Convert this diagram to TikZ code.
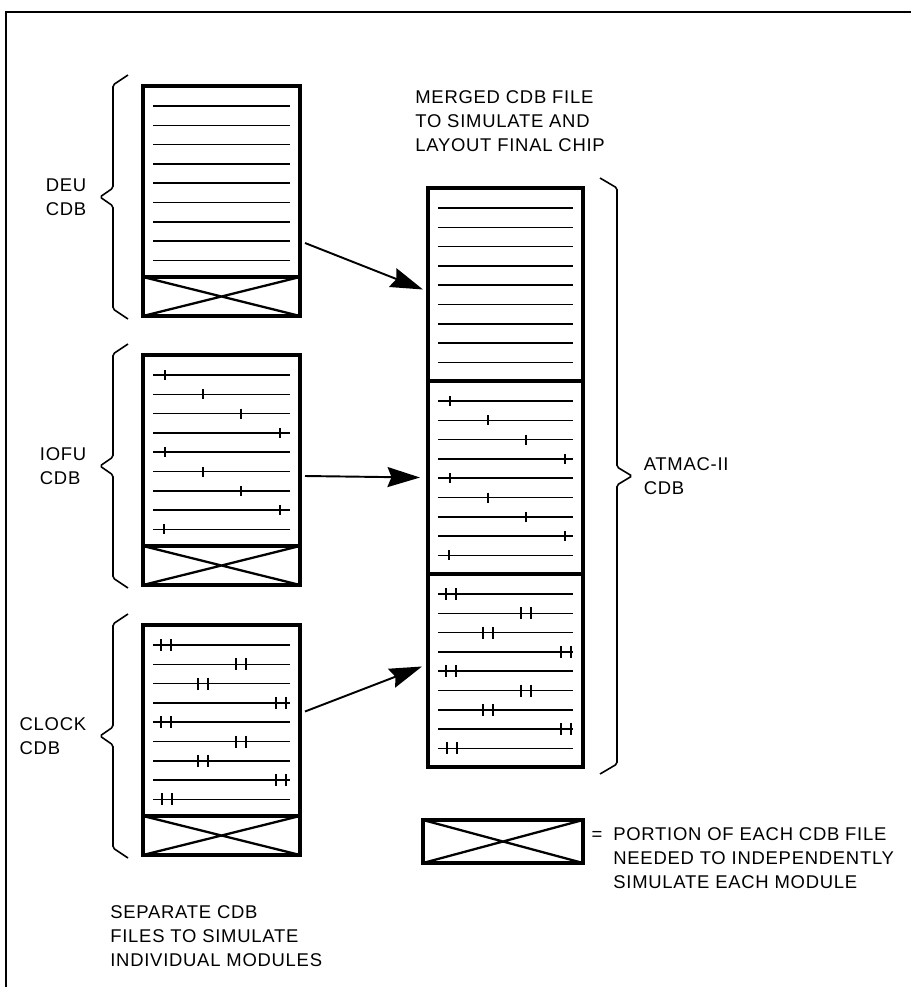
\documentclass[tikz,border=0pt]{standalone}
\usepackage{fontspec}
\newfontfamily\rotulo{Liberation Sans}[LetterSpace=4]
\usetikzlibrary{arrows.meta, positioning, calc}
\tikzset{
  cajaArchivo/.style={
    draw, line width=2.2pt, inner sep=0pt, outer sep=0pt,
    minimum width=3.14cm, minimum height=3.82cm
  },
  cajaCruce/.style={cajaArchivo, minimum height=0.78cm},
  cajaFusion/.style={cajaArchivo, minimum width=3.1cm, minimum height=3.86cm},
  renglon/.style={line width=0.9pt},
  marca/.style={line width=1.4pt},
  cruce/.style={line width=1.3pt},
  llave/.style={line width=0.9pt, rounded corners=1pt},
  marco/.style={line width=1.1pt},
  flecha/.style={-{Stealth[length=6.5mm, width=4mm, inset=0.8mm]}, line width=1.1pt},
  etiqueta/.style={align=left, inner sep=0pt, font=\rotulo\fontsize{10.5}{13.4}\selectfont},
}

\begin{document}
\begin{tikzpicture}
    \useasboundingbox (0,0) rectangle (18.22,-19.74);
    \draw[marco] (0.12,-19.74) -- (0.12,-0.24) -- (18.22,-0.24);

    % archivos separados
    \node[cajaArchivo, anchor=north west] (deu) at (2.86,-1.72) {};
    \node[cajaCruce, below=0pt of deu] (deuX) {};
    \node[cajaArchivo, below=0.78cm of deuX] (iofu) {};
    \node[cajaCruce, below=0pt of iofu] (iofuX) {};
    \node[cajaArchivo, below=0.8cm of iofuX] (clock) {};
    \node[cajaCruce, below=0pt of clock] (clockX) {};

    % archivo fusionado
    \node[cajaFusion, anchor=north west] (atmacDeu) at (8.56,-3.76) {};
    \node[cajaFusion, below=0pt of atmacDeu] (atmacIofu) {};
    \node[cajaFusion, below=0pt of atmacIofu] (atmacClock) {};

    \node[cajaCruce, minimum width=3.2cm, minimum height=0.86cm, anchor=north west] (leyenda) at (8.46,-16.4) {};

    \foreach \caja in {deu,iofu,clock,atmacDeu,atmacIofu,atmacClock}
      \foreach \i in {0,...,8}
        \draw[renglon] ([shift={(0.2,-0.4-0.386*\i)}]\caja.north west) -- ([shift={(-0.2,-0.4-0.386*\i)}]\caja.north east);

    \foreach \caja in {iofu,atmacIofu}
      \foreach \i/\p in {0/22,1/60,2/98,3/137,4/22,5/60,6/98,7/137,8/21}
        \draw[marca] ([shift={(\p*0.02,-0.3-0.386*\i)}]\caja.north west) -- ++(0,-0.2);

    \foreach \caja in {clock,atmacClock}
      \foreach \i/\p in {0/23,1/98,2/60,3/138,4/23,5/98,6/60,7/138,8/24} {
        \draw[marca] ([shift={(\p*0.02-0.1,-0.28-0.386*\i)}]\caja.north west) -- ++(0,-0.24);
        \draw[marca] ([shift={(\p*0.02+0.1,-0.28-0.386*\i)}]\caja.north west) -- ++(0,-0.24);
      }

    \foreach \c in {deuX,iofuX,clockX,leyenda}
      \draw[cruce] (\c.north west) -- (\c.south east) (\c.south west) -- (\c.north east);

    % llaves
    \foreach \caja/\texto in {deu/DEU,iofu/IOFU,clock/CLOCK}
      \draw[llave] let \p1=([shift={(-0.3,0.22)}]\caja.north west),
                       \p2=([shift={(-0.3,-0.06)}]\caja X.south west) in
        (\p1) -- (\x1-0.3cm,\y1-0.2cm) -- (\x1-0.3cm,{(\y1+\y2)/2+0.18cm})
        -- (\x1-0.56cm,{(\y1+\y2)/2}) node[etiqueta, anchor=east, xshift=-0.26cm] (\caja Etiq) {\texto\\CDB}
        -- (\x1-0.3cm,{(\y1+\y2)/2-0.18cm}) -- (\x1-0.3cm,\y2+0.2cm) -- (\p2);

    \draw[llave] let \p1=([shift={(0.34,0.2)}]atmacDeu.north east),
                     \p2=([shift={(0.34,-0.14)}]atmacClock.south east) in
      (\p1) -- (\x1+0.34cm,\y1-0.2cm) -- (\x1+0.34cm,{(\y1+\y2)/2+0.18cm})
      -- (\x1+0.64cm,{(\y1+\y2)/2}) node[etiqueta, anchor=west, xshift=0.22cm] (atmacEtiq) {ATMAC-II\\CDB}
      -- (\x1+0.34cm,{(\y1+\y2)/2-0.18cm}) -- (\x1+0.34cm,\y2+0.2cm) -- (\p2);

    \draw[flecha] ([shift={(0.1,-1.23)}]deu.east) -- ([shift={(-0.1,-0.1)}]atmacDeu.west);
    \draw[flecha] ([shift={(0.1,-0.51)}]iofu.east) -- ([shift={(-0.16,0)}]atmacIofu.west);
    \draw[flecha] ([shift={(0.1,0.18)}]clock.east) -- ([shift={(-0.12,0.08)}]atmacClock.west);

    % la ancla base queda en el ultimo renglon
    \node[etiqueta, anchor=base west] (tituloFusion) at (8.3,-3.02) {MERGED CDB FILE\\TO SIMULATE AND\\LAYOUT FINAL CHIP};
    \node[etiqueta, anchor=base west] (tituloSeparados) at (2.2,-19.32) {SEPARATE CDB\\FILES TO SIMULATE\\INDIVIDUAL MODULES};
    \node[etiqueta, anchor=base west] (textoLeyenda) at (12.26,-17.76) {\llap{=\hspace{0.22cm}}PORTION OF EACH CDB FILE\\NEEDED TO INDEPENDENTLY\\SIMULATE EACH MODULE};
  \end{tikzpicture}
\end{document}
